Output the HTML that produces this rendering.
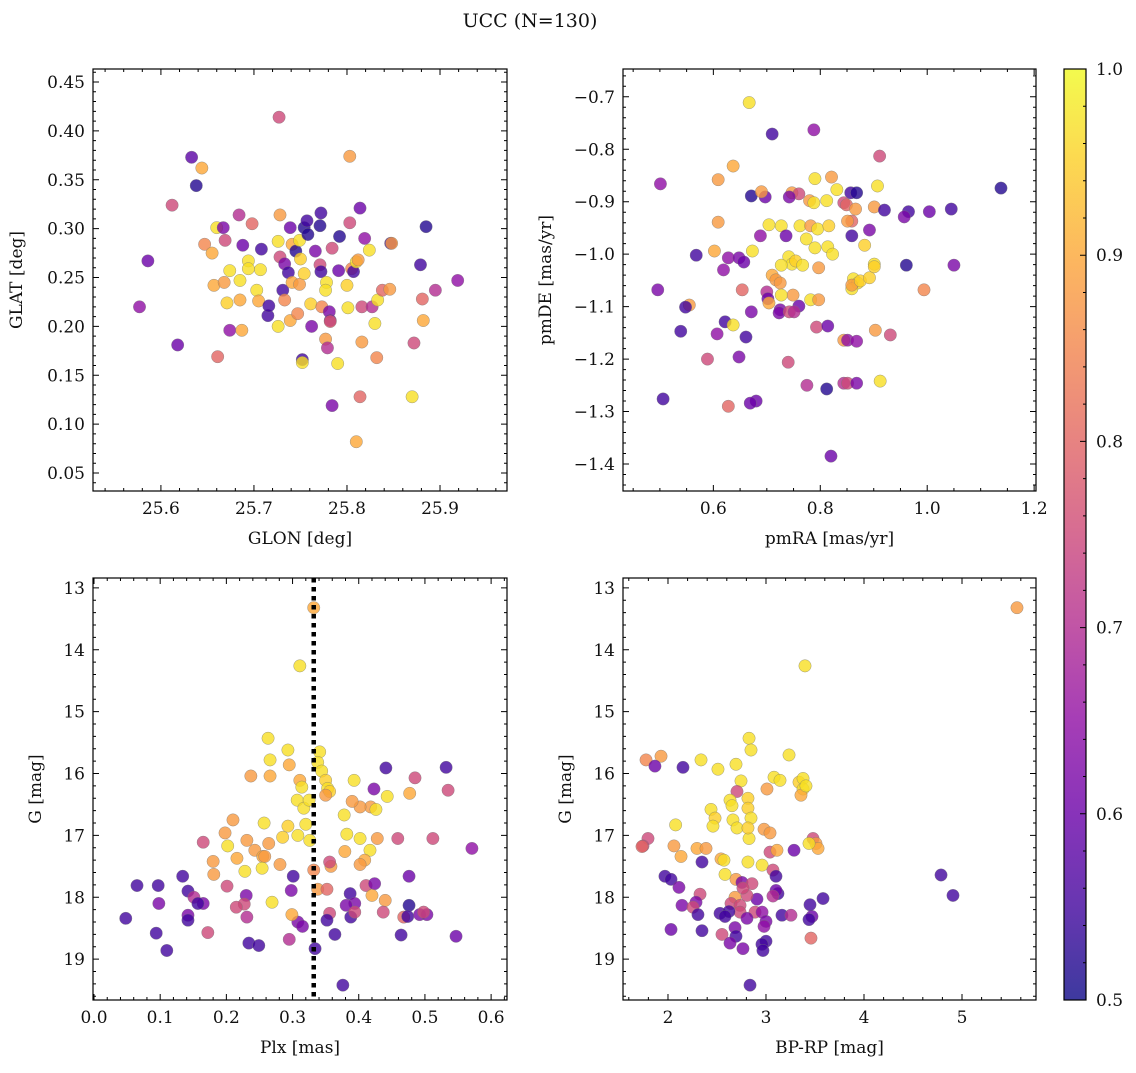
<!DOCTYPE html>
<html><head><meta charset="utf-8"><style>
html,body{margin:0;padding:0;background:#fff}
svg text{font-family:"DejaVu Serif","Liberation Serif",serif;fill:#111}
</style></head><body>
<svg id="chart" width="1136" height="1068" viewBox="0 0 1136 1068" xmlns="http://www.w3.org/2000/svg">
<defs>
<linearGradient id="plasma" x1="0" y1="1" x2="0" y2="0">
<stop offset="0" stop-color="#0d0887"/><stop offset="0.1" stop-color="#41049d"/><stop offset="0.2" stop-color="#6a00a8"/><stop offset="0.3" stop-color="#8f0da4"/><stop offset="0.4" stop-color="#b12a90"/><stop offset="0.5" stop-color="#cc4778"/><stop offset="0.6" stop-color="#e16462"/><stop offset="0.7" stop-color="#f2844b"/><stop offset="0.8" stop-color="#fca636"/><stop offset="0.9" stop-color="#fcce25"/><stop offset="1" stop-color="#f0f921"/>
</linearGradient>
</defs>
<text x="530" y="27" text-anchor="middle" font-size="19">UCC (N=130)</text>
</svg>
<script>
// ---- Data (top-left: GLON vs GLAT) ----
const tlX=[25.727,25.633,25.803,25.638,25.644,25.612,25.586,25.577,25.618,25.661,25.647,25.660,25.667,25.684,25.698,25.708,25.688,25.669,25.655,25.674,25.657,25.668,25.685,25.671,25.685,25.674,25.687,25.694,25.694,25.703,25.707,25.705,25.715,25.716,25.726,25.728,25.726,25.728,25.733,25.737,25.739,25.741,25.745,25.749,25.750,25.754,25.757,25.758,25.766,25.731,25.733,25.741,25.749,25.754,25.739,25.747,25.752,25.752,25.762,25.761,25.772,25.771,25.771,25.772,25.773,25.778,25.777,25.781,25.782,25.782,25.784,25.777,25.779,25.784,25.790,25.792,25.791,25.800,25.801,25.803,25.805,25.807,25.810,25.812,25.814,25.810,25.814,25.816,25.816,25.819,25.827,25.830,25.832,25.824,25.833,25.838,25.846,25.847,25.848,25.879,25.881,25.882,25.885,25.870,25.872,25.895,25.919];
const tlY=[0.414,0.373,0.374,0.344,0.362,0.324,0.267,0.220,0.181,0.169,0.284,0.301,0.301,0.314,0.305,0.279,0.283,0.288,0.275,0.257,0.242,0.245,0.247,0.224,0.227,0.196,0.196,0.267,0.259,0.237,0.258,0.226,0.211,0.221,0.200,0.314,0.287,0.271,0.264,0.255,0.301,0.284,0.277,0.288,0.269,0.301,0.308,0.294,0.277,0.237,0.227,0.245,0.243,0.254,0.206,0.213,0.166,0.163,0.200,0.223,0.316,0.303,0.263,0.256,0.220,0.245,0.237,0.215,0.206,0.205,0.280,0.187,0.178,0.119,0.162,0.292,0.257,0.242,0.219,0.306,0.259,0.256,0.266,0.268,0.321,0.082,0.128,0.184,0.220,0.290,0.220,0.203,0.168,0.278,0.227,0.237,0.238,0.285,0.285,0.263,0.228,0.206,0.302,0.128,0.183,0.237,0.247];
const tlP=[0.75,0.58,0.88,0.52,0.9,0.75,0.6,0.65,0.6,0.8,0.85,0.97,0.62,0.7,0.8,0.55,0.6,0.75,0.9,0.97,0.9,0.88,0.97,0.95,0.9,0.65,0.9,0.97,0.97,0.97,0.97,0.9,0.55,0.55,0.97,0.88,0.97,0.75,0.62,0.55,0.6,0.9,0.52,0.97,0.95,0.52,0.55,0.52,0.62,0.55,0.85,0.9,0.88,0.95,0.9,0.85,0.55,0.97,0.62,0.95,0.55,0.52,0.75,0.55,0.85,0.97,0.97,0.62,0.6,0.78,0.75,0.88,0.7,0.62,0.97,0.52,0.6,0.95,0.97,0.75,0.85,0.55,0.97,0.88,0.6,0.9,0.8,0.88,0.75,0.65,0.7,0.97,0.85,0.97,0.97,0.8,0.88,0.55,0.88,0.55,0.8,0.9,0.52,0.97,0.75,0.7,0.65];
// ---- Data (top-right: pmRA vs pmDE) ----
const trX=[0.667,0.710,0.788,0.911,0.501,0.609,0.637,1.138,0.790,0.821,0.831,0.857,0.868,0.907,0.671,0.697,0.690,0.747,0.760,0.742,0.780,0.788,0.812,0.844,0.849,0.866,0.901,0.920,0.965,1.004,1.045,0.957,0.609,0.704,0.727,0.736,0.762,0.782,0.795,0.816,0.859,0.859,0.851,0.892,0.688,0.774,0.790,0.814,0.823,0.883,0.673,0.602,0.568,0.628,0.648,0.657,0.741,0.747,0.754,0.727,0.767,0.619,0.710,0.717,0.725,0.797,0.862,0.870,0.859,0.859,0.875,0.892,0.901,0.901,0.961,1.050,0.994,0.496,0.654,0.700,0.749,0.727,0.782,0.797,0.702,0.555,0.548,0.704,0.760,0.725,0.723,0.742,0.751,0.671,0.622,0.637,0.793,0.814,0.539,0.607,0.661,0.903,0.931,0.844,0.851,0.868,0.589,0.648,0.740,0.775,0.812,0.844,0.851,0.868,0.912,0.506,0.680,0.669,0.628,0.820];
const trY=[-0.711,-0.771,-0.763,-0.813,-0.866,-0.858,-0.832,-0.874,-0.856,-0.853,-0.877,-0.883,-0.883,-0.870,-0.889,-0.891,-0.881,-0.883,-0.885,-0.891,-0.898,-0.902,-0.898,-0.902,-0.906,-0.914,-0.910,-0.916,-0.919,-0.919,-0.914,-0.929,-0.939,-0.944,-0.946,-0.965,-0.946,-0.946,-0.952,-0.946,-0.965,-0.937,-0.937,-0.954,-0.965,-0.971,-0.988,-0.986,-1.000,-0.983,-0.994,-0.994,-1.002,-1.007,-1.007,-1.015,-1.005,-1.019,-1.013,-1.021,-1.021,-1.030,-1.040,-1.049,-1.055,-1.026,-1.047,-1.055,-1.066,-1.059,-1.051,-1.045,-1.019,-1.024,-1.021,-1.021,-1.068,-1.068,-1.068,-1.072,-1.078,-1.078,-1.087,-1.087,-1.085,-1.097,-1.101,-1.093,-1.099,-1.106,-1.112,-1.110,-1.110,-1.110,-1.129,-1.135,-1.139,-1.137,-1.147,-1.152,-1.158,-1.145,-1.154,-1.164,-1.164,-1.166,-1.200,-1.196,-1.206,-1.250,-1.257,-1.246,-1.246,-1.246,-1.242,-1.276,-1.280,-1.284,-1.290,-1.385];
const trP=[0.97,0.55,0.65,0.75,0.65,0.88,0.9,0.52,0.97,0.88,0.97,0.55,0.52,0.97,0.52,0.6,0.88,0.88,0.75,0.62,0.88,0.97,0.97,0.75,0.8,0.88,0.88,0.55,0.55,0.6,0.55,0.62,0.88,0.97,0.97,0.6,0.97,0.88,0.97,0.95,0.55,0.8,0.88,0.62,0.65,0.97,0.97,0.97,0.97,0.95,0.97,0.9,0.55,0.65,0.62,0.6,0.97,0.97,0.95,0.97,0.97,0.65,0.9,0.88,0.88,0.88,0.97,0.97,0.97,0.88,0.95,0.95,0.97,0.95,0.52,0.62,0.85,0.62,0.8,0.7,0.88,0.97,0.97,0.88,0.6,0.88,0.55,0.9,0.6,0.62,0.62,0.75,0.7,0.62,0.55,0.97,0.75,0.6,0.55,0.65,0.55,0.88,0.75,0.88,0.65,0.65,0.75,0.62,0.75,0.7,0.52,0.7,0.75,0.62,0.97,0.55,0.6,0.6,0.8,0.6];
// ---- Data (bottom-left: Plx vs G) ----
const blX=[0.332,0.311,0.263,0.293,0.295,0.266,0.341,0.338,0.344,0.311,0.237,0.266,0.314,0.350,0.353,0.307,0.317,0.325,0.320,0.356,0.350,0.378,0.393,0.423,0.443,0.418,0.402,0.390,0.426,0.441,0.485,0.477,0.532,0.535,0.571,0.512,0.459,0.428,0.402,0.382,0.417,0.409,0.379,0.358,0.356,0.326,0.308,0.285,0.293,0.257,0.264,0.243,0.231,0.216,0.202,0.198,0.210,0.165,0.180,0.181,0.228,0.255,0.258,0.254,0.281,0.301,0.298,0.332,0.338,0.352,0.402,0.411,0.424,0.420,0.387,0.394,0.381,0.440,0.476,0.437,0.476,0.388,0.394,0.356,0.352,0.308,0.315,0.299,0.269,0.230,0.227,0.215,0.201,0.231,0.134,0.142,0.151,0.165,0.157,0.097,0.065,0.098,0.142,0.142,0.172,0.094,0.048,0.110,0.234,0.249,0.295,0.334,0.364,0.468,0.474,0.492,0.503,0.498,0.547,0.464,0.376];
const blY=[13.32,14.26,15.43,15.62,15.86,15.78,15.65,15.82,15.96,16.11,16.04,16.04,16.22,16.11,16.24,16.43,16.56,16.43,16.82,16.29,16.35,16.67,16.11,16.25,16.37,16.54,16.54,16.45,16.58,15.91,16.07,16.32,15.90,16.27,17.21,17.05,17.05,17.05,17.05,16.98,17.24,17.40,17.26,17.50,17.43,17.08,17.00,17.03,16.85,16.80,17.13,17.24,17.08,17.37,17.17,16.96,16.75,17.11,17.42,17.63,17.58,17.34,17.34,17.53,17.47,17.66,17.89,17.56,17.87,17.87,17.47,17.81,17.78,17.97,17.94,18.10,18.13,18.05,17.66,18.24,18.13,18.32,18.24,18.26,18.37,18.40,18.47,18.28,18.08,17.97,18.11,18.16,17.82,18.32,17.66,17.90,18.00,18.10,18.10,17.81,17.81,18.10,18.29,18.37,18.57,18.58,18.34,18.86,18.74,18.78,18.68,18.83,18.60,18.32,18.31,18.28,18.28,18.24,18.63,18.61,19.42];
const blP=[0.9,0.97,0.97,0.97,0.9,0.97,0.97,0.97,0.97,0.9,0.88,0.9,0.97,0.95,0.97,0.97,0.97,0.97,0.97,0.95,0.88,0.97,0.97,0.62,0.97,0.88,0.88,0.88,0.97,0.55,0.75,0.9,0.55,0.75,0.65,0.75,0.75,0.88,0.97,0.97,0.97,0.9,0.9,0.88,0.75,0.97,0.97,0.95,0.95,0.97,0.88,0.88,0.88,0.9,0.97,0.88,0.88,0.75,0.88,0.88,0.97,0.9,0.88,0.97,0.88,0.55,0.62,0.85,0.88,0.8,0.88,0.75,0.62,0.9,0.55,0.62,0.62,0.88,0.6,0.75,0.52,0.55,0.75,0.75,0.55,0.62,0.62,0.9,0.97,0.62,0.75,0.75,0.75,0.7,0.55,0.55,0.7,0.62,0.55,0.55,0.55,0.62,0.62,0.55,0.75,0.55,0.55,0.55,0.55,0.55,0.7,0.55,0.55,0.8,0.55,0.62,0.62,0.75,0.6,0.55,0.55];
// ---- Data (bottom-right: BP-RP vs G) ----
const brX=[5.561,3.398,2.827,2.847,3.235,2.337,1.929,1.776,1.867,2.153,2.510,2.694,2.745,3.082,3.143,3.337,3.378,3.378,3.357,3.408,3.010,2.704,2.633,2.816,2.816,2.847,2.439,2.480,2.653,2.459,2.663,2.704,2.827,2.816,2.980,3.041,2.078,2.061,1.796,1.745,1.735,2.133,2.296,2.388,2.347,2.541,2.571,2.582,2.816,3.041,3.112,3.286,2.960,2.694,2.755,2.857,3.071,3.480,3.510,3.531,3.439,3.102,3.122,2.908,3.102,3.071,2.806,2.765,2.684,2.643,2.735,2.327,2.286,2.143,2.255,1.969,2.031,2.112,2.306,2.531,2.735,2.888,2.960,3.163,3.469,3.449,3.582,3.439,3.255,2.622,2.582,2.806,3.000,2.980,2.684,2.551,2.347,2.031,2.694,3.000,3.459,2.633,2.959,2.969,2.765,2.837,4.786,4.908];
const brY=[13.32,14.26,15.43,15.62,15.70,15.78,15.72,15.78,15.88,15.90,15.93,15.85,16.12,16.06,16.11,16.14,16.08,16.25,16.35,16.20,16.25,16.29,16.43,16.40,16.56,16.72,16.58,16.72,16.52,16.85,16.75,16.88,17.05,16.88,16.90,16.96,16.83,17.17,17.05,17.17,17.18,17.34,17.21,17.21,17.43,17.38,17.40,17.63,17.43,17.27,17.24,17.24,17.48,17.71,17.76,17.78,17.56,17.05,17.13,17.21,17.13,17.66,17.94,18.03,17.89,17.98,17.97,17.85,18.00,18.10,18.13,17.95,18.08,18.13,18.16,17.66,17.71,17.84,18.28,18.26,18.24,18.24,18.24,18.29,18.31,18.12,18.02,18.36,18.29,18.23,18.31,18.34,18.39,18.47,18.49,18.60,18.54,18.52,18.63,18.71,18.66,18.74,18.76,18.86,18.83,19.42,17.64,17.97];
const brP=[0.88,0.97,0.97,0.97,0.97,0.97,0.88,0.85,0.6,0.55,0.97,0.97,0.97,0.97,0.97,0.95,0.97,0.97,0.9,0.97,0.88,0.75,0.97,0.95,0.95,0.97,0.97,0.95,0.97,0.97,0.97,0.97,0.97,0.95,0.88,0.88,0.97,0.88,0.75,0.75,0.8,0.9,0.9,0.88,0.55,0.9,0.97,0.97,0.97,0.75,0.9,0.6,0.97,0.88,0.62,0.75,0.75,0.75,0.88,0.9,0.97,0.55,0.55,0.6,0.6,0.7,0.75,0.75,0.88,0.75,0.75,0.75,0.62,0.62,0.75,0.55,0.55,0.62,0.55,0.55,0.75,0.75,0.65,0.55,0.6,0.55,0.55,0.55,0.7,0.55,0.55,0.62,0.62,0.65,0.62,0.75,0.55,0.6,0.55,0.55,0.8,0.62,0.55,0.55,0.62,0.55,0.55,0.55];
const plxLine=[0.332];
const cbTicks=[0.5,0.6,0.7,0.8,0.9,1.0];

const NS="http://www.w3.org/2000/svg";
const svg=document.getElementById('chart');
const stops=[[13,8,135],[65,4,157],[106,0,168],[143,13,164],[177,42,144],[204,71,120],[225,100,98],[242,132,75],[252,166,54],[252,206,37],[240,249,33]];
function plasma(p){let t=Math.max(0,Math.min(1,(p-0.5)/0.5))*10;let i=Math.min(9,Math.floor(t)),f=t-i;const a=stops[i],b=stops[i+1];return 'rgb('+a.map((v,k)=>Math.round(v+(b[k]-v)*f)).join(',')+')';}
function mk(tag,attrs,parent){const e=document.createElementNS(NS,tag);for(const k in attrs)e.setAttribute(k,attrs[k]);(parent||svg).appendChild(e);return e;}
function fmt(v,d){let s=v.toFixed(d);if(s.startsWith('-'))s='\u2212'+s.slice(1);return s;}

const panels=[
 {id:'glon-glat',L:93,T:69,R:507,B:491,x0:25.527,x1:25.972,y0:0.0316,y1:0.4633,xs:[25.6,25.7,25.8,25.9],xm:0.02,xd:1,ys:[0.05,0.1,0.15,0.2,0.25,0.3,0.35,0.4,0.45],ym:0.01,yd:2,xl:'GLON [deg]',yl:'GLAT [deg]',X:tlX,Y:tlY,P:tlP,inv:false,ylx:22},
 {id:'pmra-pmde',L:623,T:69,R:1036,B:491,x0:0.431,x1:1.2035,y0:-1.4515,y1:-0.647,xs:[0.6,0.8,1.0,1.2],xm:0.05,xd:1,ys:[-1.4,-1.3,-1.2,-1.1,-1.0,-0.9,-0.8,-0.7],ym:0.02,yd:1,xl:'pmRA [mas/yr]',yl:'pmDE [mas/yr]',X:trX,Y:trY,P:trP,inv:false,ylx:551},
 {id:'plx-g',L:93,T:578,R:507,B:1000,x0:-0.0015,x1:0.624,y0:12.84,y1:19.66,xs:[0,0.1,0.2,0.3,0.4,0.5,0.6],xm:0.02,xd:1,ys:[13,14,15,16,17,18,19],ym:0.2,yd:0,xl:'Plx [mas]',yl:'G [mag]',X:blX,Y:blY,P:blP,inv:true,ylx:41},
 {id:'bprp-g',L:623,T:578,R:1036,B:1000,x0:1.541,x1:5.755,y0:12.84,y1:19.66,xs:[2,3,4,5],xm:0.2,xd:0,ys:[13,14,15,16,17,18,19],ym:0.2,yd:0,xl:'BP-RP [mag]',yl:'G [mag]',X:brX,Y:brY,P:brP,inv:true,ylx:571}
];

panels.forEach(pn=>{
 const g=mk('g',{});
 
 
 const sx=v=>pn.L+(v-pn.x0)/(pn.x1-pn.x0)*(pn.R-pn.L);
 const sy=v=>pn.inv?pn.T+(v-pn.y0)/(pn.y1-pn.y0)*(pn.B-pn.T):pn.B-(v-pn.y0)/(pn.y1-pn.y0)*(pn.B-pn.T);
 for(let i=0;i<pn.X.length;i++){
  const c=mk('circle',{cx:sx(pn.X[i]),cy:sy(pn.Y[i]),r:6.2,fill:plasma(pn.P[i]),'fill-opacity':0.8,stroke:'#777','stroke-width':0.5,'stroke-opacity':0.7},g);
  
  
 }
 if(pn.id==='plx-g'){
  plxLine.forEach(v=>{
   const l=mk('line',{x1:sx(v),x2:sx(v),y1:pn.T,y2:pn.B,stroke:'#000','stroke-width':4.5,'stroke-dasharray':'4.5 4.5'},g);
   
   
  });
 }
 const fr=mk('rect',{x:pn.L,y:pn.T,width:pn.R-pn.L,height:pn.B-pn.T,fill:'none',stroke:'#000','stroke-width':1.2},g);
 
 
 const tk=[];
 const eps=1e-9;
 for(let v=Math.ceil(pn.x0/pn.xm-eps)*pn.xm;v<=pn.x1+eps;v+=pn.xm){const X=sx(v);tk.push(`M${X},${pn.B}v-3M${X},${pn.T}v3`);}
 for(let v=Math.ceil(pn.y0/pn.ym-eps)*pn.ym;v<=pn.y1+eps;v+=pn.ym){const Y=sy(v);tk.push(`M${pn.L},${Y}h3M${pn.R},${Y}h-3`);}
 pn.xs.forEach(v=>{const X=sx(v);tk.push(`M${X},${pn.B}v-6M${X},${pn.T}v6`);
  const t=mk('text',{x:X,y:pn.B+23,'text-anchor':'middle','font-size':17},g);t.textContent=fmt(v,pn.xd);
  
  });
 pn.ys.forEach(v=>{const Y=sy(v);tk.push(`M${pn.L},${Y}h6M${pn.R},${Y}h-6`);
  const t=mk('text',{x:pn.L-8,y:Y+6,'text-anchor':'end','font-size':17},g);t.textContent=fmt(v,pn.yd);
  
  });
 const tp=mk('path',{d:tk.join(''),stroke:'#000','stroke-width':1,fill:'none'},g);
 
 
 const xl=mk('text',{x:(pn.L+pn.R)/2,y:pn.B+53,'text-anchor':'middle','font-size':17},g);xl.textContent=pn.xl;
 
 
 const yx=pn.ylx;
 const cy=(pn.T+pn.B)/2;
 const yl=mk('text',{x:yx,y:cy,'text-anchor':'middle','font-size':17,transform:`rotate(-90 ${yx} ${cy})`},g);yl.textContent=pn.yl;
 
 
});

(function(){
 const L=1064,R=1086,T=69,B=1000;
 const g=mk('g',{});
 
 
 mk('rect',{x:L,y:T,width:R-L,height:B-T,fill:'url(#plasma)','fill-opacity':0.8},g);
 mk('rect',{x:L,y:T,width:R-L,height:B-T,fill:'none',stroke:'#000','stroke-width':1.2},g);
 const sy=v=>B-(v-0.5)/0.5*(B-T);
 const tk=[];
 for(let v=0.5;v<=1.0001;v+=0.02){tk.push(`M${R},${sy(v)}h-3`);}
 cbTicks.forEach(v=>{tk.push(`M${R},${sy(v)}h-6`);
  const t=mk('text',{x:R+10,y:sy(v)+6,'font-size':17},g);t.textContent=v.toFixed(1);
  
  });
 mk('path',{d:tk.join(''),stroke:'#000','stroke-width':1},g);
})();
</script>
</body></html>
